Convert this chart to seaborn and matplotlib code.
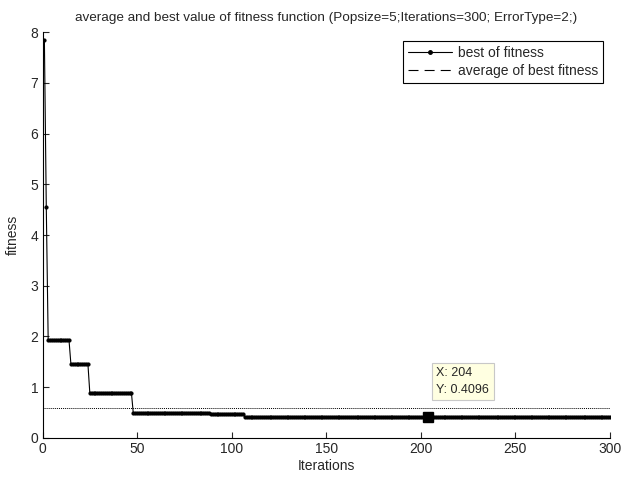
import numpy as np
import pandas as pd
import matplotlib
matplotlib.use("Agg")
import matplotlib.pyplot as plt
import seaborn as sns
from matplotlib.lines import Line2D

# ---- data ----
step_levels = [7.85, 4.55, 1.93, 1.46, 0.89, 0.48, 0.46, 0.4096]
step_lengths = [1, 1, 12, 10, 23, 41, 18, 194]
best_fitness = np.repeat(step_levels, step_lengths)
iterations = np.arange(1, len(best_fitness) + 1)
avg_best = float(np.mean(best_fitness))
tip_x, tip_y = 204, 0.4096
x_ticks = [0, 50, 100, 150, 200, 250, 300]
y_ticks = [0, 1, 2, 3, 4, 5, 6, 7, 8]
title = "average and best value of fitness function (Popsize=5;Iterations=300; ErrorType=2;)"

sns.set_style("ticks")
plt.rcParams["font.family"] = ["Liberation Sans Narrow", "Liberation Sans", "DejaVu Sans"]
plt.rcParams["xtick.direction"] = "in"
plt.rcParams["ytick.direction"] = "in"

fig = plt.figure(figsize=(6.21, 4.82), dpi=100)
ax = fig.add_axes([42.5 / 621, 1 - 437.7 / 482, (610 - 42.5) / 621, (437.7 - 32.3) / 482])

df = pd.DataFrame({"Iterations": iterations, "fitness": best_fitness})
sns.lineplot(data=df, x="Iterations", y="fitness", ax=ax, color="black", linewidth=0.8,
             marker=".", markersize=4.5, markeredgecolor="black", markerfacecolor="black")
ax.axhline(avg_best, color="black", linewidth=0.7, linestyle=(0, (1, 1)))

# data tip
ax.plot([tip_x], [tip_y], marker="s", markersize=7, color="black", linestyle="none")
ax.annotate(f"X: {tip_x}\nY: {tip_y}", xy=(tip_x, tip_y), xytext=(8, 21),
            textcoords="offset pixels", ha="left", va="bottom", fontsize=9,
            linespacing=1.5,
            bbox=dict(boxstyle="square,pad=0.35", fc="#ffffe1", ec="#c8c8c8", lw=0.8))

ax.set_xlim(0, 300)
ax.set_ylim(0, 8)
ax.set_xticks(x_ticks)
ax.set_yticks(y_ticks)
ax.tick_params(axis="both", labelsize=10, length=4, width=0.8, pad=3)
ax.set_xlabel("Iterations", fontsize=10, labelpad=2)
ax.set_ylabel("fitness", fontsize=10, labelpad=8)
ax.set_title(title, fontsize=9.7, pad=8)
for s in ["top", "right"]:
    ax.spines[s].set_visible(False)
for s in ["left", "bottom"]:
    ax.spines[s].set_linewidth(0.8)
    ax.spines[s].set_color("black")

handles = [Line2D([], [], color="black", linewidth=0.8, marker=".", markersize=5),
           Line2D([], [], color="black", linewidth=0.8, linestyle=(0, (9, 5.5)))]
leg = ax.legend(handles, ["best of fitness", "average of best fitness"],
                loc="upper right", bbox_to_anchor=(603 / 621, 1 - 40.7 / 482),
                bbox_transform=fig.transFigure, fontsize=10, frameon=True,
                fancybox=False, shadow=False, borderpad=0.35, labelspacing=0.3,
                handlelength=3.2, handletextpad=0.4, markerscale=1, numpoints=1,
                borderaxespad=0)
leg.get_frame().set_edgecolor("black")
leg.get_frame().set_linewidth(0.8)
leg.get_frame().set_alpha(1)

fig.savefig("out.png", dpi=100)
